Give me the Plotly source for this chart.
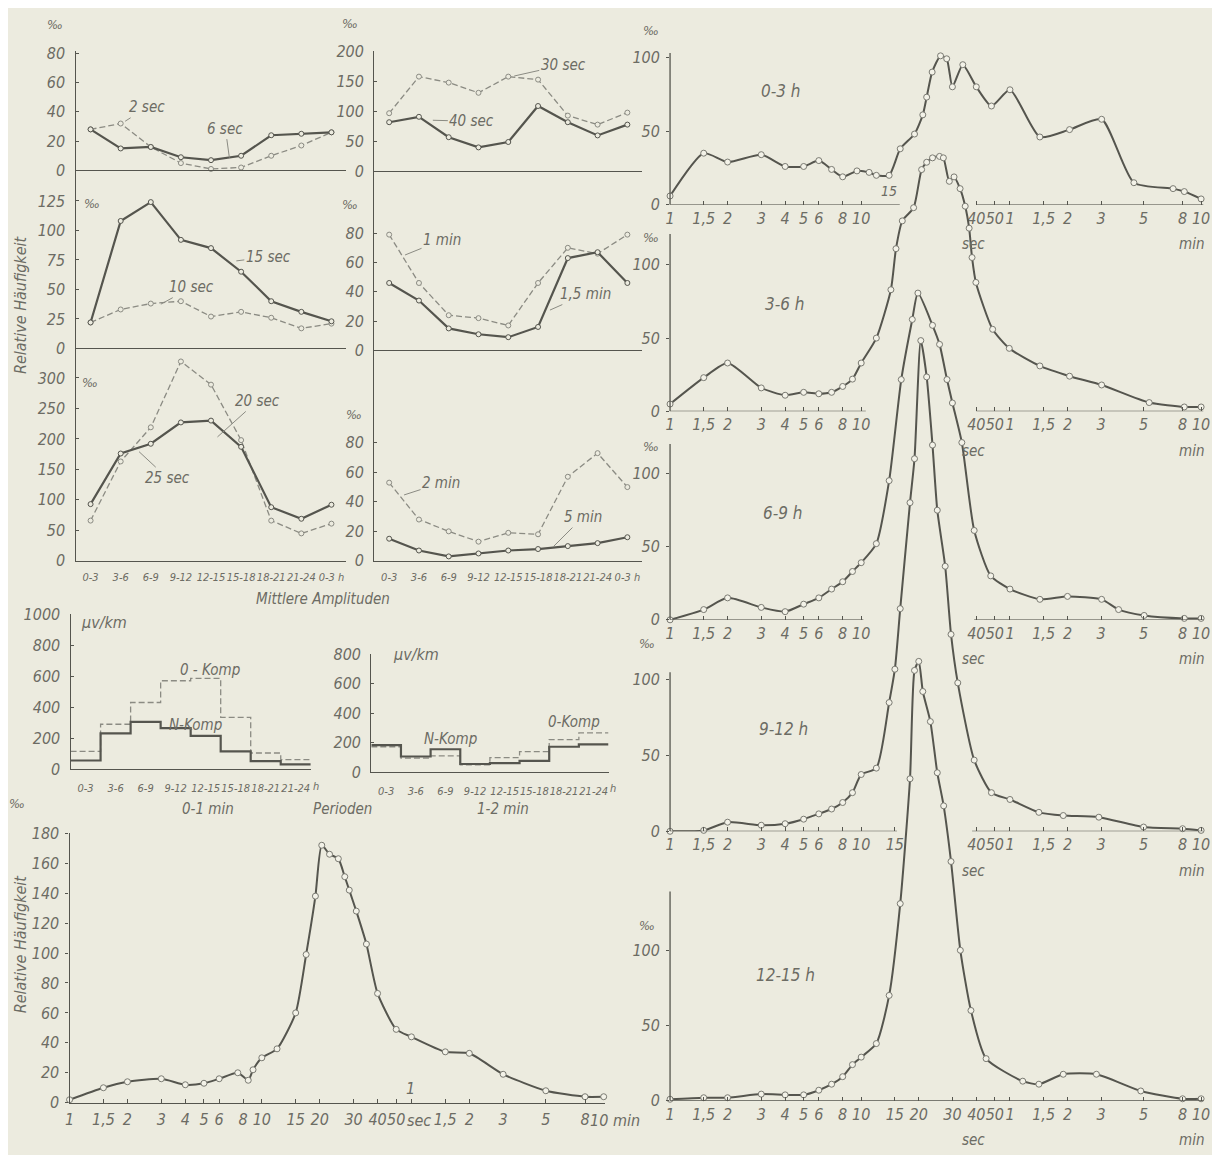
import math
import plotly.graph_objects as go

W, H = 1220, 1163
OFF = 8  # page margin of the browser body
FW, FH = W - 2 * OFF, H - 2 * OFF

# ---------------- data: diurnal variation (Mittlere Amplituden) ----------------
hours = ["0-3", "3-6", "6-9", "9-12", "12-15", "15-18", "18-21", "21-24", "0-3 h"]

sec2 = [28, 32, 16, 5, 1, 2, 10, 17, 26]
sec6 = [28, 15, 16, 9, 7, 10, 24, 25, 26]
sec30 = [97, 158, 148, 131, 158, 153, 93, 78, 98]
sec40 = [82, 91, 57, 40, 49, 109, 82, 60, 78]
sec15 = [22, 108, 124, 92, 85, 65, 40, 31, 23]
sec10 = [22, 33, 38, 40, 27, 31, 26, 17, 21]
min1 = [79, 46, 24, 22, 17, 46, 70, 66, 79]
min1_5 = [46, 34, 15, 11, 9, 16, 63, 67, 46]
sec20 = [66, 163, 219, 327, 289, 198, 66, 45, 61]
sec25 = [93, 176, 192, 227, 230, 187, 88, 69, 92]
min2 = [53, 28, 20, 13, 19, 18, 57, 73, 50]
min5 = [15, 7, 3, 5, 7, 8, 10, 12, 16]

# ---------------- data: amplitudes (µV/km) ----------------
step_edges = [0, 3, 6, 9, 12, 15, 18, 21, 24]
step_labels = ["0-3", "3-6", "6-9", "9-12", "12-15", "15-18", "18-21", "21-24"]
step_unit = "h"
o_komp_0_1 = [115, 290, 430, 570, 585, 335, 105, 63]
n_komp_0_1 = [57, 232, 305, 265, 215, 116, 53, 32]
o_komp_1_2 = [173, 96, 111, 51, 100, 140, 222, 267]
n_komp_1_2 = [184, 107, 156, 56, 62, 78, 173, 189]

# ---------------- data: period spectra (period in seconds, ‰) ----------------
all_period = [1, 1.5, 2, 3, 4, 5, 6, 7.5, 8.5, 9, 10, 12, 15, 17, 19, 20.5, 22.5, 25, 27,
              28.5, 31, 35, 40, 50, 60, 90, 120, 180, 300, 480, 600]
all_value = [2, 10, 14, 16, 12, 13, 16, 20, 15, 22, 30, 36, 60, 99, 138, 172, 166, 163, 151,
             142, 128, 106, 73, 49, 44, 34, 33, 19, 8, 4, 4]

p_0_3 = [1, 1.5, 2, 3, 4, 5, 6, 7, 8, 9.5, 11, 12, 14, 16, 19, 21, 22, 23.5, 26, 28, 30, 34,
         40, 48, 60, 86, 123, 181, 267, 428, 490, 600]
v_0_3 = [6, 35, 29, 34, 26, 26, 30, 24, 19, 23, 22, 20, 20, 38, 48, 61, 73, 90, 101, 99, 80, 95,
         80, 67, 78, 46, 51, 58, 15, 11, 9, 4]

p_3_6 = [1, 1.5, 2, 3, 4, 5, 6, 7, 8, 9, 10, 12, 14.3, 15.2, 16.4, 18.8, 20.7, 22, 23.6, 25.7,
         26.9, 28.9, 30.6, 32.9, 35, 36.7, 38, 39.8, 48.7, 59.5, 86, 123, 181, 321, 490, 600]
v_3_6 = [5, 23, 33, 16, 11, 13, 12, 13, 17, 22, 33, 50, 83, 111, 130, 139, 165, 170, 173, 174,
         173, 157, 160, 152, 140, 125, 105, 88, 56, 43, 31, 24, 18, 6, 3, 3]

p_6_9 = [1, 1.5, 2, 3, 4, 5, 6, 7, 8, 9, 10, 12, 14, 16.2, 18.5, 19.8, 23.6, 25.7, 28.1, 30,
         33.6, 39, 47.6, 60, 86, 120, 181, 222, 302, 490, 600]
v_6_9 = [0, 7, 15, 8.5, 5.6, 10.7, 15, 21, 26, 33, 39, 52, 95, 164, 205, 223, 201, 188, 164, 148,
         121, 61, 30, 21, 14, 16, 14, 7, 3, 1, 1]

p_9_12 = [1, 1.5, 2, 3, 4, 5, 6, 7, 8, 9, 10, 12, 14, 15, 16, 18, 19, 20.5, 22, 23.6, 25, 27.5,
          29.5, 32, 39, 48, 60, 85, 114, 175, 300, 480, 600]
v_9_12 = [0, 0.6, 6, 4, 5, 8, 11.5, 14.7, 19, 25.5, 37.5, 41.7, 85, 107, 147, 217, 246, 324, 300,
          255, 212, 175, 130, 98, 47, 25.5, 21, 12.5, 10.4, 9.3, 2.8, 1.7, 0.6]

p_12_15 = [1, 1.5, 2, 3, 4, 5, 6, 7, 8, 9, 10, 12, 14, 16, 18, 19, 20, 21, 23, 25, 27, 29.5, 33,
           37.5, 45, 70, 85, 114, 170, 290, 480, 600]
v_12_15 = [1, 2, 2, 4.4, 3.9, 3.9, 7, 11, 16, 24, 29, 38, 70, 131, 214, 286, 292, 272, 252, 218,
           196, 159, 100, 60, 28, 13, 11, 17.6, 17.6, 6.5, 1.3, 1.3]

tick_periods = [1, 1.5, 2, 3, 4, 5, 6, 8, 10, 15, 20, 30, 40, 50, 60, 90, 120, 180, 300, 480, 600]
tick_texts = ["1", "1,5", "2", "3", "4", "5", "6", "8", "10", "15", "20", "30", "40", "50", "1",
              "1,5", "2", "3", "5", "8", "10"]

# ---------------- styling ----------------
BG = "#ecebdf"
DARK = "#55554e"
LIGHT = "#8b8b83"
TXT = "#6c6c64"
FONT = "DejaVu Sans Condensed, Liberation Sans Narrow, DejaVu Sans, sans-serif"


def fx(px):
    return (px - OFF) / FW


def fy(py):
    return 1 - (py - OFF) / FH


def tf(size=16):
    return dict(family=FONT, size=size, color=TXT, style="italic")


fig = go.Figure()
lay = {}
ann = []
shapes = []
count = [0]


def axes_pair():
    count[0] += 1
    k = count[0]
    s = "" if k == 1 else str(k)
    return "x" + s, "y" + s, "xaxis" + s, "yaxis" + s


def text(t, x, y, size=16, **kw):
    ann.append(dict(text=t, x=fx(x), y=fy(y), xref="paper", yref="paper", showarrow=False,
                    xanchor="center", yanchor="middle", font=tf(size), **kw))


def leader(t, tip, center, size=15):
    ann.append(dict(text=t, x=fx(tip[0]), y=fy(tip[1]), xref="paper", yref="paper",
                    showarrow=True, arrowhead=0, arrowwidth=1, arrowcolor=LIGHT,
                    ax=center[0] - tip[0], ay=center[1] - tip[1], standoff=0,
                    font=tf(size)))


def line_style(kind):
    if kind == "solid":
        return dict(color=DARK, width=2.2), DARK
    return dict(color=LIGHT, width=1.3, dash="6px,3px"), LIGHT


def hour_panel(x0, x1, bot, top, scale, tickvals, series, xlabels):
    xr, yr, xa, ya = axes_pair()
    lay[xa] = dict(domain=[fx(x0), fx(x1)], anchor=yr, type="category",
                   categoryorder="array", categoryarray=hours, range=[-0.5, 8.5],
                   showline=True, linecolor=DARK, linewidth=1.3, ticks="",
                   showticklabels=xlabels, tickfont=tf(11), tickangle=0,
                   ticklabelstandoff=6, ticklabeloverflow="allow", showgrid=False,
                   zeroline=False)
    lay[ya] = dict(domain=[fy(bot), fy(top)], anchor=xr, range=[0, (bot - top) / scale],
                   tickvals=tickvals, showline=True, linecolor=DARK, linewidth=1.3,
                   ticks="inside", ticklen=3, tickcolor=DARK, tickfont=tf(16),
                   ticklabelstandoff=6, showgrid=False, zeroline=False)
    for vals, kind in series:
        ls, mc = line_style(kind)
        fig.add_trace(go.Scatter(x=hours, y=vals, xaxis=xr, yaxis=yr, mode="lines+markers",
                                 line=ls, cliponaxis=False,
                                 marker=dict(size=5, color=BG, line=dict(color=mc, width=1)),
                                 showlegend=False, hoverinfo="skip"))


def step_panel(x0, x1, bot, top, ymax, tickvals, series):
    xr, yr, xa, ya = axes_pair()
    centers = [(a + b) / 2 for a, b in zip(step_edges[:-1], step_edges[1:])]
    lay[xa] = dict(domain=[fx(x0), fx(x1)], anchor=yr, range=[0, 24], tickvals=centers,
                   ticktext=step_labels, showline=True, linecolor=DARK, linewidth=1.3,
                   ticks="", tickfont=tf(11), tickangle=0, ticklabelstandoff=8,
                   ticklabeloverflow="allow", showgrid=False, zeroline=False)
    lay[ya] = dict(domain=[fy(bot), fy(top)], anchor=xr, range=[0, ymax], tickvals=tickvals,
                   showline=True, linecolor=DARK, linewidth=1.3, ticks="inside", ticklen=3,
                   tickcolor=DARK, tickfont=tf(16), ticklabelstandoff=6, showgrid=False,
                   zeroline=False)
    for vals, kind in series:
        ls, _ = line_style(kind)
        fig.add_trace(go.Scatter(x=step_edges, y=vals + vals[-1:], xaxis=xr, yaxis=yr,
                                 mode="lines", line=dict(shape="hv", **ls), cliponaxis=False,
                                 showlegend=False, hoverinfo="skip"))
    # unit after the last interval label
    text(step_unit, x1 + 5, bot + 17, size=11)


def spectrum_axes(x0, x1, bot, top, scale, yticks, tick_sel, axis_top, segs, dec_px,
                  blank=()):
    xr, yr, xa, ya = axes_pair()
    tv = [tick_periods[i] for i in tick_sel]
    tt = [("" if tick_periods[i] in blank else tick_texts[i]) for i in tick_sel]
    lay[xa] = dict(domain=[fx(x0), fx(x1)], anchor=yr, type="log",
                   range=[0, (x1 - x0) / dec_px], tickvals=tv, ticktext=tt,
                   showline=segs is None, linecolor=DARK, linewidth=1.3, ticks="inside",
                   ticklen=4, tickcolor=DARK, tickfont=tf(16), tickangle=0,
                   ticklabelstandoff=2, ticklabeloverflow="allow", showgrid=False,
                   zeroline=False)
    lay[ya] = dict(domain=[fy(bot), fy(top)], anchor=xr, range=[0, (bot - top) / scale],
                   tickvals=yticks, showline=segs is None, linecolor=DARK, linewidth=1.3,
                   ticks="outside", ticklen=3, tickcolor=DARK, tickfont=tf(16),
                   ticklabelstandoff=3, showgrid=False, zeroline=False)
    if segs is not None:
        shapes.append(dict(type="line", xref=xr + " domain", yref=yr,
                           x0=0, x1=0, y0=0, y1=axis_top,
                           line=dict(color=DARK, width=1.3)))
        span = (x1 - x0) / dec_px
        for a, b in segs:
            shapes.append(dict(type="line", xref=xr + " domain", yref=yr,
                               x0=math.log10(a) / span, x1=min(1.0, math.log10(b) / span + 0.004),
                               y0=0, y1=0, line=dict(color=DARK, width=1.3)))
    return xr, yr


def spectrum_trace(xr, yr, px, vals):
    fig.add_trace(go.Scatter(x=px, y=vals, xaxis=xr, yaxis=yr, mode="lines+markers",
                             line=dict(color=DARK, width=2, shape="spline", smoothing=0.6),
                             cliponaxis=False,
                             marker=dict(size=6, color="#f3f2e8", line=dict(color="#7a7a72", width=1)),
                             showlegend=False, hoverinfo="skip"))


# ---------------- left column: diurnal variation panels ----------------
hour_panel(71, 344, 164, 43, 1.49, [0, 20, 40, 60, 80], [(sec2, "dash"), (sec6, "solid")], False)
hour_panel(372, 642, 165, 43, 0.61, [0, 50, 100, 150, 200], [(sec30, "dash"), (sec40, "solid")], False)
hour_panel(71, 344, 345, 164, 1.2, [0, 25, 50, 75, 100, 125], [(sec10, "dash"), (sec15, "solid")], False)
hour_panel(372, 642, 347, 165, 1.49, [0, 20, 40, 60, 80], [(min1, "dash"), (min1_5, "solid")], False)
hour_panel(71, 344, 561, 345, 0.62, [0, 50, 100, 150, 200, 250, 300], [(sec20, "dash"), (sec25, "solid")], True)
hour_panel(372, 642, 561, 347, 1.5, [0, 20, 40, 60, 80], [(min2, "dash"), (min5, "solid")], True)

# ---------------- step charts ----------------
step_panel(66, 308, 773, 615, 1000, [0, 200, 400, 600, 800, 1000],
           [(o_komp_0_1, "dash"), (n_komp_0_1, "solid")])
step_panel(369, 608, 776, 656, 800, [0, 200, 400, 600, 800],
           [(o_komp_1_2, "dash"), (n_komp_1_2, "solid")])

# ---------------- bottom-left spectrum (all hours) ----------------
xr, yr = spectrum_axes(65, 604, 1112, 838, 1.522, list(range(0, 181, 20)),
                       list(range(len(tick_periods))), None, None, 193.7, blank=(60, 600))
spectrum_trace(xr, yr, all_period, all_value)

# ---------------- right column spectra ----------------
base_sel = [0, 1, 2, 3, 4, 5, 6, 7, 8, 12, 13, 14, 15, 16, 17, 18, 19, 20]
right_panels = [
    (199, 1.5, base_sel, 103, [(1, 15.5), (40, 600)], p_0_3, v_0_3),
    (409, 1.49, base_sel, 121, [(1, 10.3), (40, 600)], p_3_6, v_3_6),
    (621, 1.49, base_sel, 120, [(1, 10), (39, 600)], p_6_9, v_6_9),
    (836, 1.54, sorted(base_sel + [9]), 105, [(1, 15), (38, 600)], p_9_12, v_9_12),
    (1110, 1.53, list(range(len(tick_periods))), 139, [(1, 600)], p_12_15, v_12_15),
]
for bot, sc, sel, atop, segs, pp, vv in right_panels:
    xr, yr = spectrum_axes(670, 1210, bot, 38, sc, [0, 50, 100], sel, atop, segs, 192.6)
    spectrum_trace(xr, yr, pp, vv)
    text("sec", 976, bot + 40, size=15)
    text("min", 1195, bot + 40, size=15)

# ---------------- texts ----------------
PM = "‰"
for x, y in [(50, 16), (348, 15), (88, 198), (348, 199), (86, 380), (352, 412), (12, 808),
             (651, 22), (651, 232), (651, 445), (647, 645), (647, 932)]:
    text(PM, x, y, size=13)

leader("2 sec", (121, 114), (143, 100))
leader("6 sec", (226, 151), (222, 122))
leader("30 sec", (513, 68), (562, 57))
leader("40 sec", (431, 113), (470, 114))
leader("15 sec", (233, 256), (265, 252))
leader("10 sec", (157, 300), (188, 283))
leader("1 min", (403, 250), (440, 235))
leader("1,5 min", (549, 306), (585, 290))
leader("20 sec", (214, 435), (254, 399))
leader("25 sec", (135, 450), (163, 476))
leader("2 min", (402, 494), (439, 482))
leader("5 min", (552, 547), (582, 517))

text("0 - Komp", 206, 672, size=15)
text("N-Komp", 192, 728, size=15)
text("N-Komp", 449, 742, size=15)
text("0-Komp", 573, 725, size=15)
text("µv/km", 100, 624, size=16)
text("µv/km", 414, 656, size=16)
text("0-1 min", 204, 813, size=15)
text("Perioden", 340, 813, size=15)
text("1-2 min", 502, 813, size=15)
text("Mittlere Amplituden", 320, 600, size=15)
text("Relative Häufigkeit", 15, 300, size=16, textangle=-90)
text("Relative Häufigkeit", 15, 950, size=16, textangle=-90)
text("sec", 417, 1130, size=16)
text("10 min", 615, 1130, size=16)
text("1", 408, 1098, size=16)
text("15", 891, 185, size=14)

text("0-3 h", 782, 83, size=17)
text("3-6 h", 786, 300, size=17)
text("6-9 h", 784, 512, size=17)
text("9-12 h", 784, 732, size=17)
text("12-15 h", 786, 982, size=17)

fig.update_layout(width=FW, height=FH, autosize=False, margin=dict(l=0, r=0, t=0, b=0),
                  paper_bgcolor=BG, plot_bgcolor="rgba(0,0,0,0)", showlegend=False,
                  annotations=ann, shapes=shapes, **lay)

fig.write_html("out.html")
